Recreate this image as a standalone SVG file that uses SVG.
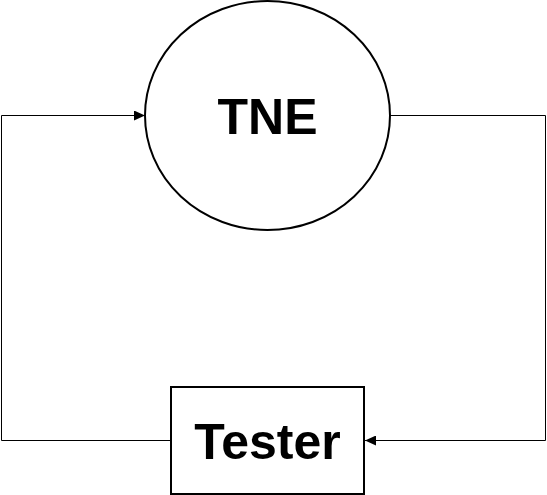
<svg xmlns="http://www.w3.org/2000/svg" width="547" height="495" viewBox="0 0 547 495">
<style>
.node{fill:#fff;stroke:#000;stroke-width:2}
.lbl{font-family:"Liberation Sans",Arial,sans-serif;font-weight:bold;font-size:50px;fill:#000;text-anchor:middle}
.edge{fill:none;stroke:#000;stroke-width:1}
</style>
<defs>
<marker id="ah" markerWidth="11" markerHeight="10" refX="11" refY="5" orient="auto" markerUnits="userSpaceOnUse">
<path d="M0,0 L11,5 L0,10 Z" fill="#000"/>
</marker>
</defs>
<rect width="547" height="495" fill="#fff"/>
<g id="connectors">
<path class="edge" d="M171,440.5 H1.5 V115.5 H145" marker-end="url(#ah)"/>
<path class="edge" d="M390,115.5 H545.5 V440.5 H365" marker-end="url(#ah)"/>
</g>
<g id="tne">
<ellipse class="node" cx="267.5" cy="115.5" rx="122.5" ry="114.5"/>
<text class="lbl" x="267.5" y="134">TNE</text>
</g>
<g id="tester">
<rect class="node" x="171" y="387" width="193" height="107"/>
<text class="lbl" x="267.5" y="459">Tester</text>
</g>
</svg>
